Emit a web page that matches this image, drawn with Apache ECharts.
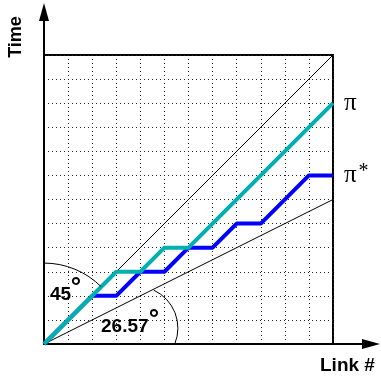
<!DOCTYPE html>
<html><head><meta charset="utf-8">
<script src="https://cdn.jsdelivr.net/npm/echarts@6/dist/echarts.min.js"></script>
<style>html,body{margin:0;padding:0;background:#fff}#c{width:381px;height:381px}</style>
</head><body><div id="c"></div>
<script>
// ---- data (grid units) ----
const xMin = 0, xMax = 12, yMin = 0, yMax = 12;
const piX = [0, 3, 4, 5, 6, 12];
const piY = [0, 3, 3, 4, 4, 10];
const piStarX = [0, 2, 3, 4, 5, 6, 7, 8, 9, 11, 12];
const piStarY = [0, 2, 2, 3, 3, 4, 4, 5, 5, 7, 7];
const line45X = [0, 12];
const line45Y = [0, 12];
const lineHalfX = [0, 12];
const lineHalfY = [0, 6];
const seriesNames = ['π', 'π*'];
const angleTexts = ['45', '26.57'];
const axisNames = ['Link #', 'Time'];
// angle arcs: centre (grid units), radius (grid units), start/end angle (deg)
const arcCenters = [[0, 0], [3.82, 0.66]];
const arcRadii = [3.36, 1.74];
const arcStart = [90, 65];
const arcEnd = [45, -22];

const zip = (xs, ys) => xs.map((x, i) => [x, ys[i]]);
const chart = echarts.init(document.getElementById('c'), null, {renderer: 'canvas'});
const SANS = 'Liberation Sans';
const SERIF = 'Liberation Serif';

const hiddenAxis = {axisTick: {show: false}, axisLabel: {show: false}};
const option = {
  animation: false,
  backgroundColor: '#fff',
  grid: [
    {left: 44, top: 55, width: 289, height: 289, show: true, borderColor: '#000', borderWidth: 2},
    {left: 44, top: 12, right: 10, bottom: 37, show: false}
  ],
  xAxis: [
    Object.assign({gridIndex: 0, type: 'value', min: xMin, max: xMax, interval: 1,
      axisLine: {show: false},
      splitLine: {show: true, lineStyle: {color: '#222', width: 1, type: [1, 3]}}}, hiddenAxis),
    Object.assign({gridIndex: 1, type: 'value', min: 0, max: 1,
      axisLine: {show: true, onZero: false, lineStyle: {color: '#000', width: 2}, symbol: ['none', 'triangle'], symbolSize: [10, 18]},
      splitLine: {show: false}}, hiddenAxis)
  ],
  yAxis: [
    Object.assign({gridIndex: 0, type: 'value', min: yMin, max: yMax, interval: 1,
      axisLine: {show: false},
      splitLine: {show: true, lineStyle: {color: '#222', width: 1, type: [1, 3]}}}, hiddenAxis),
    Object.assign({gridIndex: 1, type: 'value', min: 0, max: 1,
      axisLine: {show: true, onZero: false, lineStyle: {color: '#000', width: 2}, symbol: ['none', 'triangle'], symbolSize: [10, 18]},
      splitLine: {show: false}}, hiddenAxis)
  ],
  series: [
    {type: 'line', xAxisIndex: 0, yAxisIndex: 0, data: zip(line45X, line45Y), symbol: 'none',
      lineStyle: {color: '#000', width: 1}, z: 2},
    {type: 'line', xAxisIndex: 0, yAxisIndex: 0, data: zip(lineHalfX, lineHalfY), symbol: 'none',
      lineStyle: {color: '#000', width: 1}, z: 2},
    {type: 'line', name: seriesNames[1], xAxisIndex: 0, yAxisIndex: 0, data: zip(piStarX, piStarY), symbol: 'none',
      lineStyle: {color: '#0000ff', width: 4}, z: 3, clip: false,
      endLabel: {show: true, distance: 11, formatter: '{a|π}{b|*}',
        rich: {a: {fontFamily: SERIF, fontSize: 25, color: '#000', lineHeight: 28},
               b: {fontFamily: SERIF, fontSize: 20, color: '#000', verticalAlign: 'top', padding: [0, 0, 0, 2]}}}},
    {type: 'line', name: seriesNames[0], xAxisIndex: 0, yAxisIndex: 0, data: zip(piX, piY), symbol: 'none',
      lineStyle: {color: '#00b0b0', width: 4}, z: 4, clip: false,
      endLabel: {show: true, distance: 11, formatter: '{a|π}',
        rich: {a: {fontFamily: SERIF, fontSize: 25, color: '#000', lineHeight: 28}}}}
  ]
};
chart.setOption(option);

const toPx = p => chart.convertToPixel({xAxisIndex: 0, yAxisIndex: 0}, p);
const unit = toPx([1, 0])[0] - toPx([0, 0])[0];
const graphics = arcCenters.map((c, i) => {
  const p = toPx(c);
  return {type: 'arc', z: 5, shape: {cx: p[0], cy: p[1], r: arcRadii[i] * unit,
    startAngle: -arcStart[i] * Math.PI / 180, endAngle: -arcEnd[i] * Math.PI / 180, clockwise: true},
    style: {fill: 'none', stroke: '#000', lineWidth: 1}};
});
const textStyle = (t, size) => ({text: t, fontFamily: SANS, fontWeight: 'bold', fontSize: size, fill: '#000'});
graphics.push(
  {type: 'text', z: 6, x: 50, y: 295, style: Object.assign(textStyle(angleTexts[0], 19), {align: 'left', verticalAlign: 'middle'})},
  {type: 'text', z: 6, x: 76, y: 288, style: Object.assign(textStyle('°', 26), {align: 'center', verticalAlign: 'middle'})},
  {type: 'text', z: 6, x: 101, y: 327, style: Object.assign(textStyle(angleTexts[1], 19), {align: 'left', verticalAlign: 'middle'})},
  {type: 'text', z: 6, x: 154, y: 320, style: Object.assign(textStyle('°', 26), {align: 'center', verticalAlign: 'middle'})},
  {type: 'text', z: 6, x: 320, y: 366, style: Object.assign(textStyle(axisNames[0], 19), {align: 'left', verticalAlign: 'middle'})},
  {type: 'text', z: 6, x: 16, y: 37, rotation: Math.PI / 2, style: Object.assign(textStyle(axisNames[1], 18), {align: 'center', verticalAlign: 'middle'})}
);
chart.setOption({graphic: graphics});
</script></body></html>
